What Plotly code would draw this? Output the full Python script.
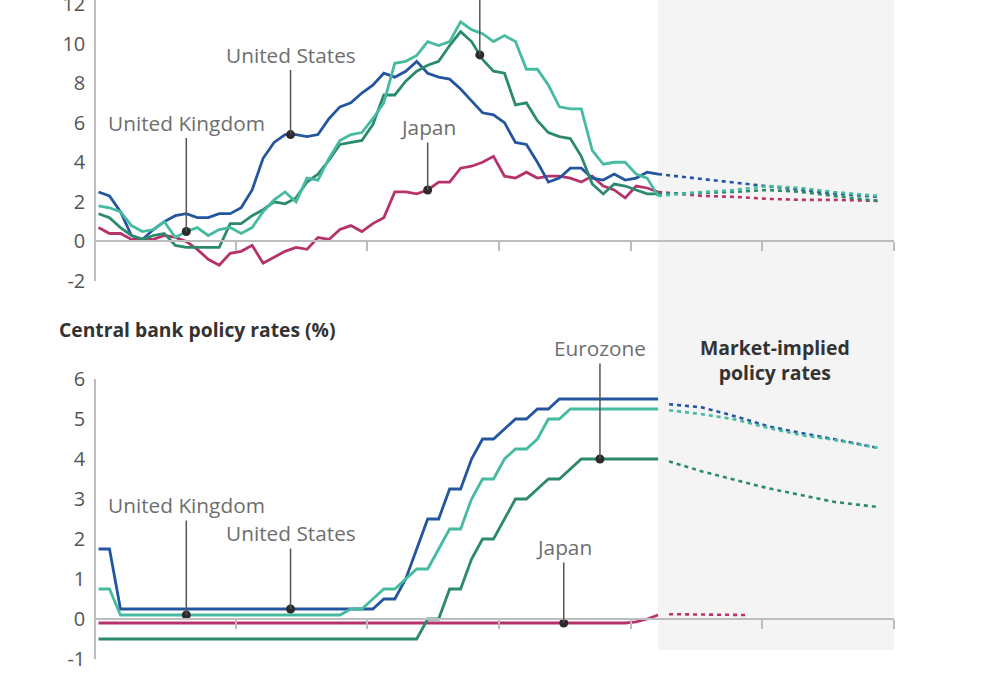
import numpy as np
import plotly.graph_objects as go

# ---------------- data ----------------
# month index: 0 = Jan 2020 ... 51 = Apr 2024
months = list(range(52))

# Headline inflation (% y/y)
cpi_us = [2.5, 2.3, 1.5, 0.3, 0.1, 0.6, 1.0, 1.3, 1.4, 1.2, 1.2, 1.4,
          1.4, 1.7, 2.6, 4.2, 5.0, 5.4, 5.4, 5.3, 5.4, 6.2, 6.8, 7.0,
          7.5, 7.9, 8.5, 8.3, 8.6, 9.1, 8.5, 8.3, 8.2, 7.7, 7.1, 6.5,
          6.4, 6.0, 5.0, 4.9, 4.0, 3.0, 3.2, 3.7, 3.7, 3.2, 3.1, 3.4,
          3.1, 3.2, 3.5, 3.4]
cpi_uk = [1.8, 1.7, 1.5, 0.8, 0.5, 0.6, 1.0, 0.2, 0.5, 0.7, 0.3, 0.6,
          0.7, 0.4, 0.7, 1.5, 2.1, 2.5, 2.0, 3.2, 3.1, 4.2, 5.1, 5.4,
          5.5, 6.2, 7.0, 9.0, 9.1, 9.4, 10.1, 9.9, 10.1, 11.1, 10.7, 10.5,
          10.1, 10.4, 10.1, 8.7, 8.7, 7.9, 6.8, 6.7, 6.7, 4.6, 3.9, 4.0,
          4.0, 3.4, 3.2, 2.3]
cpi_ez = [1.4, 1.2, 0.7, 0.3, 0.1, 0.3, 0.4, -0.2, -0.3, -0.3, -0.3, -0.3,
          0.9, 0.9, 1.3, 1.6, 2.0, 1.9, 2.2, 3.0, 3.4, 4.1, 4.9, 5.0,
          5.1, 5.9, 7.4, 7.4, 8.1, 8.6, 8.9, 9.1, 9.9, 10.6, 10.1, 9.2,
          8.6, 8.5, 6.9, 7.0, 6.1, 5.5, 5.3, 5.2, 4.3, 2.9, 2.4, 2.9,
          2.8, 2.6, 2.4, 2.4]
cpi_jp = [0.7, 0.4, 0.4, 0.1, 0.1, 0.1, 0.3, 0.2, 0.0, -0.4, -0.9, -1.2,
          -0.6, -0.5, -0.2, -1.1, -0.8, -0.5, -0.3, -0.4, 0.2, 0.1, 0.6, 0.8,
          0.5, 0.9, 1.2, 2.5, 2.5, 2.4, 2.6, 3.0, 3.0, 3.7, 3.8, 4.0,
          4.3, 3.3, 3.2, 3.5, 3.2, 3.3, 3.3, 3.2, 3.0, 3.3, 2.8, 2.6,
          2.2, 2.8, 2.7, 2.5]

# Inflation forecasts
fc_top_months = [51, 55, 58, 61, 64, 67, 71]
fc_cpi_us = [3.4, 3.15, 3.0, 2.8, 2.6, 2.42, 2.25]
fc_cpi_uk = [2.3, 2.5, 2.6, 2.8, 2.7, 2.5, 2.3]
fc_cpi_ez = [2.4, 2.45, 2.5, 2.6, 2.5, 2.3, 2.05]
fc_cpi_jp = [2.5, 2.3, 2.25, 2.15, 2.1, 2.1, 2.05]

# Central bank policy rates (%)
rate_us = [1.75] * 2 + [0.25] * 24 + [0.5, 0.5, 1.0, 1.75, 2.5, 2.5, 3.25, 3.25,
           4.0, 4.5, 4.5, 4.75, 5.0, 5.0, 5.25, 5.25] + [5.5] * 10
rate_uk = [0.75] * 2 + [0.1] * 21 + [0.25, 0.25, 0.5, 0.75, 0.75, 1.0, 1.25, 1.25,
           1.75, 2.25, 2.25, 3.0, 3.5, 3.5, 4.0, 4.25, 4.25, 4.5, 5.0, 5.0] + [5.25] * 9
rate_ez = [-0.5] * 30 + [0.0, 0.0, 0.75, 0.75, 1.5, 2.0, 2.0, 2.5, 3.0, 3.0,
           3.25, 3.5, 3.5, 3.75] + [4.0] * 8
rate_jp = [-0.1] * 49 + [-0.07, 0.0, 0.1]

# Market-implied policy rates
fc_bot_months = [52, 55, 58, 61, 64, 67, 71]
fc_rate_us = [5.37, 5.29, 5.07, 4.82, 4.65, 4.5, 4.28]
fc_rate_uk = [5.22, 5.12, 4.99, 4.78, 4.6, 4.48, 4.28]
fc_rate_ez = [3.94, 3.69, 3.48, 3.27, 3.1, 2.93, 2.8]
fc_rate_jp_months = [52, 59]
fc_rate_jp = [0.12, 0.1]

year_ticks = [12.5, 24.5, 36.5, 48.5, 60.5, 72.5]
top_ticks = [-2, 0, 2, 4, 6, 8, 10, 12]
top_tick_text = ["-2", "0", "2", "4", "6", "8", "10", "12"]
bot_ticks = [-1, 0, 1, 2, 3, 4, 5, 6]
bot_tick_text = ["-1", "0", "1", "2", "3", "4", "5", "6"]

COL = {
    "United States": "#24569f",
    "United Kingdom": "#47baa2",
    "Eurozone": "#2c8a6c",
    "Japan": "#b5336a",
}

top_series = [("Japan", cpi_jp, fc_cpi_jp), ("United States", cpi_us, fc_cpi_us),
              ("Eurozone", cpi_ez, fc_cpi_ez), ("United Kingdom", cpi_uk, fc_cpi_uk)]
bot_series = [("Japan", rate_jp, fc_rate_jp, fc_rate_jp_months),
              ("Eurozone", rate_ez, fc_rate_ez, fc_bot_months),
              ("United States", rate_us, fc_rate_us, fc_bot_months),
              ("United Kingdom", rate_uk, fc_rate_uk, fc_bot_months)]

# labels: (text, series, month, pixel offset of text above the dot)
top_labels = [("United States", cpi_us, 17.5, -80), ("United Kingdom", cpi_uk, 8, -109),
              ("Japan", cpi_jp, 30, -63)]
top_eurozone_pointer = (cpi_ez, 34.75)
bot_labels = [("United Kingdom", rate_uk, 8, -110), ("United States", rate_us, 17.5, -76),
              ("Eurozone", rate_ez, 45.7, -111), ("Japan", rate_jp, 42.4, -76)]

# ---------------- layout geometry ----------------
W, H = 1000, 675
ML, MR = 96, 106
X_RANGE = [-0.23, 72.5]
TOP_DOM = [1 - 281 / H, 1.0]
TOP_RANGE = [-2, 12.2]
BOT_DOM = [1 - 659 / H, 1 - 379 / H]
BOT_RANGE = [-1, 6]


def zero_pos(dom, rng):
    return dom[0] + (0 - rng[0]) / (rng[1] - rng[0]) * (dom[1] - dom[0])


FONT = "Open Sans"
AXCOL = "#bdbdbd"

fig = go.Figure()

for name, vals, fc in top_series:
    fig.add_trace(go.Scatter(x=months, y=vals, mode="lines", xaxis="x", yaxis="y",
                             line=dict(color=COL[name], width=2.8), showlegend=False))
    fig.add_trace(go.Scatter(x=fc_top_months, y=fc, mode="lines", xaxis="x", yaxis="y",
                             line=dict(color=COL[name], width=2.6, dash="4px,4px"),
                             showlegend=False))

for name, vals, fc, fcm in bot_series:
    fig.add_trace(go.Scatter(x=months, y=vals, mode="lines", xaxis="x2", yaxis="y2",
                             line=dict(color=COL[name], width=2.8), showlegend=False))
    fig.add_trace(go.Scatter(x=fcm, y=fc, mode="lines", xaxis="x2", yaxis="y2",
                             line=dict(color=COL[name], width=2.6, dash="4px,4px"),
                             showlegend=False))

annotations = []
LABEL_FONT = dict(family=FONT, size=20.8, color="#6e6e6e")


def add_labels(labels, xr, yr):
    xs, ys = [], []
    for text, series, m, off in labels:
        yv = float(np.interp(m, months, series))
        xs.append(m)
        ys.append(yv)
        annotations.append(dict(x=m, y=yv, xref=xr, yref=yr, text=text, showarrow=True,
                                arrowhead=0, arrowwidth=1.5, arrowcolor="#555555",
                                ax=0, ay=off, standoff=0, font=LABEL_FONT))
    return xs, ys


tx, ty = add_labels(top_labels, "x", "y")
bx, by = add_labels(bot_labels, "x2", "y2")

ez_series, ez_m = top_eurozone_pointer
ez_y = float(np.interp(ez_m, months, ez_series))
tx.append(ez_m)
ty.append(ez_y)

fig.add_trace(go.Scatter(x=tx, y=ty, mode="markers", xaxis="x", yaxis="y",
                         marker=dict(color="#2b2b2b", size=9), showlegend=False))
fig.add_trace(go.Scatter(x=bx, y=by, mode="markers", xaxis="x2", yaxis="y2",
                         marker=dict(color="#2b2b2b", size=9), showlegend=False))

shapes = [
    # forecast shading
    dict(type="rect", xref="x", yref="paper", x0=months[-1], x1=X_RANGE[1] + 0.3,
         y0=1 - 650 / H, y1=1.0, fillcolor="#f4f4f4", line=dict(width=0), layer="below"),
    # eurozone pointer (label lies above the visible area)
    dict(type="line", xref="x", yref="y", x0=ez_m, x1=ez_m, y0=ez_y, y1=TOP_RANGE[1],
         line=dict(color="#555555", width=1.5)),
]

annotations.append(dict(x=(57 - ML) / (W - ML - MR), y=1 - 329 / H, xref="paper", yref="paper",
                        xanchor="left", yanchor="middle", showarrow=False,
                        text="<b>Central bank policy rates (%)</b>",
                        font=dict(family=FONT, size=19.3, color="#333333")))
annotations.append(dict(x=(775 - ML) / (W - ML - MR), y=1 - 360 / H, xref="paper", yref="paper",
                        xanchor="center", yanchor="middle", showarrow=False,
                        text="<b>Market-implied<br>policy rates</b>",
                        font=dict(family=FONT, size=19.4, color="#333333")))

xaxis_common = dict(range=X_RANGE, domain=[0, 1], showgrid=False, zeroline=False,
                    showline=True, linecolor=AXCOL, linewidth=1.5, ticks="outside",
                    ticklen=9, tickwidth=1.5, tickcolor=AXCOL, tickvals=year_ticks,
                    showticklabels=False, anchor="free", fixedrange=True)
yaxis_common = dict(showgrid=False, zeroline=False, showline=True, linecolor=AXCOL,
                    linewidth=1.5, ticks="", automargin=False, ticklabelstandoff=5,
                    ticklabeloverflow="allow", fixedrange=True,
                    tickfont=dict(family=FONT, size=20, color="#555555"))

fig.update_layout(
    width=W, height=H,
    margin=dict(l=ML, r=MR, t=0, b=0, pad=0),
    paper_bgcolor="white", plot_bgcolor="rgba(0,0,0,0)",
    font=dict(family=FONT),
    xaxis=dict(**xaxis_common, position=zero_pos(TOP_DOM, TOP_RANGE)),
    xaxis2=dict(**xaxis_common, position=zero_pos(BOT_DOM, BOT_RANGE)),
    yaxis=dict(**yaxis_common, domain=TOP_DOM, range=TOP_RANGE, anchor="x",
               tickvals=top_ticks, ticktext=top_tick_text),
    yaxis2=dict(**yaxis_common, domain=BOT_DOM, range=BOT_RANGE, anchor="x2",
                tickvals=bot_ticks, ticktext=bot_tick_text),
    shapes=shapes,
    annotations=annotations,
    showlegend=False,
    hovermode=False,
)

fig.write_html("out.html", config={"displayModeBar": False},
               post_script="document.body.style.margin='0px';document.body.style.overflow='hidden';")
